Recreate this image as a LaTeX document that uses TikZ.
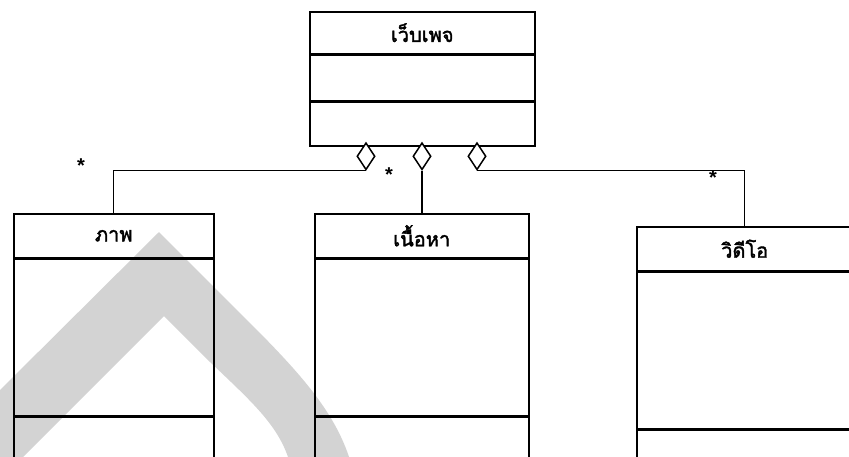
\documentclass[tikz,border=0pt]{standalone}
\usepackage{fontspec}
\setmainfont{Liberation Sans}
\newfontfamily\thaifont[Script=Thai,FakeBold=2]{Loma}
\usetikzlibrary{shapes.geometric}
\definecolor{wmgray}{RGB}{211,211,211}
\begin{document}
\begin{tikzpicture}[x=1pt,y=-1pt,
  line width=1.5pt,
  hdr/.style={draw, rectangle, inner sep=0pt, anchor=north west,
    font=\thaifont\fontsize{20}{24}\selectfont},
  comp/.style={draw, rectangle, inner sep=0pt, anchor=north},
  agg/.style={draw, diamond, inner sep=0pt, minimum width=18pt,
    minimum height=27pt, anchor=north, fill=white},
  mult/.style={inner sep=0pt, anchor=north,
    font=\bfseries\fontsize{20}{20}\selectfont},
  link/.style={line width=1.1pt}]
\useasboundingbox (0,0) rectangle (849,456);

% watermark chevron behind the classes
\fill[wmgray] (0,390) -- (159,232) -- (250,323)
  .. controls (300,373) and (335,412) .. (350,460)
  -- (289,460) .. controls (278,425) and (252,402) .. (210,362)
  -- (164,316) -- (20,460) -- (0,460) -- cycle;

% whole: web page
\node[hdr, minimum width=225pt, minimum height=42pt] (web) at (309,11) {เว็บเพจ};
\node[comp, minimum width=225pt, minimum height=45pt] (webA) at (web.south) {};
\node[comp, minimum width=225pt, minimum height=44pt] (webO) at (webA.south) {};

% parts
\node[hdr, minimum width=200pt, minimum height=44pt] (img) at (13,213) {ภาพ};
\node[comp, minimum width=200pt, minimum height=156pt] (imgA) at (img.south) {};
\node[comp, minimum width=200pt, minimum height=42pt] (imgO) at (imgA.south) {};

\node[hdr, minimum width=214pt, minimum height=44pt] (txt) at (314,213) {เนื้อหา};
\node[comp, minimum width=214pt, minimum height=156pt] (txtA) at (txt.south) {};
\node[comp, minimum width=214pt, minimum height=42pt] (txtO) at (txtA.south) {};

\node[hdr, minimum width=216pt, minimum height=44pt] (vid) at (636,226) {วิดีโอ};
\node[comp, minimum width=216pt, minimum height=156pt] (vidA) at (vid.south) {};
\node[comp, minimum width=216pt, minimum height=44pt] (vidO) at (vidA.south) {};

% aggregation diamonds on the whole
\node[agg] (d1) at (366,142) {};
\node[agg] (d2) at (422,142) {};
\node[agg] (d3) at (477,142) {};

% aggregation links
\draw[link] (d1.south) -| (img.north);
\draw[link] (d2.south) -- (d2.south |- txt.north);
\draw[link] (d3.south) -| (vid.north);

% multiplicities
\node[mult] (m1) at (81,158) {*};
\node[mult] (m2) at (389,167) {*};
\node[mult] (m3) at (713,170) {*};
\end{tikzpicture}
\end{document}
